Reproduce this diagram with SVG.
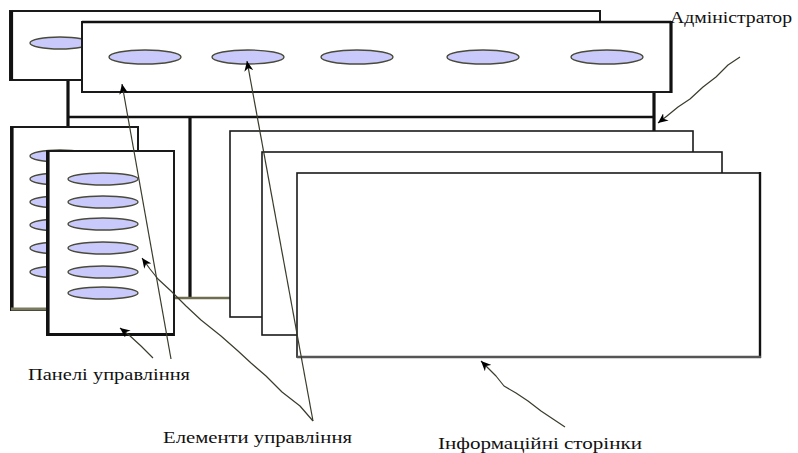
<svg xmlns="http://www.w3.org/2000/svg" width="798" height="453" viewBox="0 0 798 453">
  <style>
    .panel { fill: #ffffff; stroke: #1a1a1a; stroke-width: 2; }
    .page { fill: #ffffff; stroke: #1a1a1a; stroke-width: 1.6; }
    .edge { stroke: #111111; stroke-width: 3.2; fill: none; }
    .shade { stroke: #7a7a60; stroke-width: 3; fill: none; }
    .ctl { fill: #c9c9fb; stroke: #4a4a3a; stroke-width: 1.4; }
    .lead { fill: none; stroke: #3b3b2c; stroke-width: 1.2; stroke-linejoin: round; }
    .lbl { font-family: "Liberation Serif", "DejaVu Serif", serif; font-size: 16px; fill: #111111; }
  </style>
  <defs>
    <marker id="arr" markerUnits="userSpaceOnUse" markerWidth="11" markerHeight="9" refX="10" refY="4.5" orient="auto">
      <path d="M0,0 L10,4.5 L0,9 L3,4.5 z" fill="#000000"/>
    </marker>
  </defs>
  <rect width="798" height="453" fill="#ffffff"/>

  <!-- window frame behind the panels and pages -->
  <g id="frame">
    <rect x="68" y="50" width="586" height="248" fill="#ffffff" stroke="none"/>
    <line class="edge" x1="68" y1="50" x2="68" y2="298"/>
    <line class="edge" x1="654" y1="50" x2="654" y2="298"/>
    <line class="edge" x1="68" y1="117" x2="654" y2="117" style="stroke-width:2.6"/>
    <line class="edge" x1="190" y1="117" x2="190" y2="298"/>
    <line x1="68" y1="298" x2="654" y2="298" stroke="#6d6d50" stroke-width="2.4"/>
  </g>

  <!-- top control bar, back copy -->
  <g id="top-bar-back">
    <rect class="panel" x="10" y="11" width="590" height="69"/>
    <line class="edge" x1="11.5" y1="11" x2="11.5" y2="80"/>
    <ellipse class="ctl" cx="60" cy="43" rx="30" ry="6"/>
  </g>

  <!-- top control bar, front copy -->
  <g id="top-bar-front">
    <rect class="panel" x="82" y="22" width="589" height="70"/>
    <line class="edge" x1="671" y1="21" x2="671" y2="93"/>
    <line x1="82" y1="22" x2="671" y2="22" stroke="#111" stroke-width="2.6"/>
    <ellipse class="ctl" cx="145" cy="57" rx="36" ry="7"/>
    <ellipse class="ctl" cx="248" cy="57" rx="36" ry="7"/>
    <ellipse class="ctl" cx="357" cy="57" rx="36" ry="7"/>
    <ellipse class="ctl" cx="483" cy="57" rx="36" ry="7"/>
    <ellipse class="ctl" cx="607" cy="57" rx="36" ry="7"/>
  </g>

  <!-- side control bar, back copy -->
  <g id="side-bar-back">
    <rect class="panel" x="11" y="127" width="127" height="183"/>
    <line class="edge" x1="12" y1="127" x2="12" y2="310"/>
    <line class="shade" x1="11" y1="309" x2="138" y2="309"/>
    <ellipse class="ctl" cx="60" cy="156" rx="30" ry="6"/>
    <ellipse class="ctl" cx="60" cy="179" rx="30" ry="6"/>
    <ellipse class="ctl" cx="60" cy="202" rx="30" ry="6"/>
    <ellipse class="ctl" cx="60" cy="225" rx="30" ry="6"/>
    <ellipse class="ctl" cx="60" cy="248" rx="30" ry="6"/>
    <ellipse class="ctl" cx="60" cy="272" rx="30" ry="6"/>
  </g>

  <!-- side control bar, front copy -->
  <g id="side-bar-front">
    <rect class="panel" x="47" y="151" width="127" height="184"/>
    <line class="edge" x1="48" y1="151" x2="48" y2="336"/>
    <line class="edge" x1="47" y1="334.5" x2="174" y2="334.5"/>
    <ellipse class="ctl" cx="103" cy="179" rx="35" ry="6"/>
    <ellipse class="ctl" cx="103" cy="202" rx="35" ry="6"/>
    <ellipse class="ctl" cx="103" cy="224" rx="35" ry="6"/>
    <ellipse class="ctl" cx="103" cy="248" rx="35" ry="6"/>
    <ellipse class="ctl" cx="103" cy="272" rx="35" ry="6"/>
    <ellipse class="ctl" cx="103" cy="293" rx="35" ry="6"/>
  </g>

  <!-- stacked information pages -->
  <g id="page-1">
    <rect class="page" x="230" y="131" width="463" height="186"/>
  </g>
  <g id="page-2">
    <rect class="page" x="262" y="152" width="460" height="183"/>
  </g>
  <g id="page-3">
    <rect class="page" x="297" y="173" width="463" height="184"/>
    <line x1="760" y1="172" x2="760" y2="358" stroke="#111" stroke-width="2.4"/>
    <line x1="297" y1="357" x2="761" y2="357" stroke="#555" stroke-width="2.4"/>
  </g>

  <!-- leader lines from the captions -->
  <g id="connectors">
    <path class="lead" marker-end="url(#arr)" d="M740,57 L728,65 L716,77 L703,87 L690,99 L678,107 L667,116 L658,123"/>
    <path class="lead" marker-end="url(#arr)" d="M565,427 L553,419 L541,411 L528,401 L516,393 L504,386 L496,376 L488,368 L481,361"/>
    <path class="lead" marker-end="url(#arr)" d="M313,421 L247,61"/>
    <path class="lead" marker-end="url(#arr)" d="M313,421 L300,406 L282,392 L266,376 L251,363 L238,351 L221,336 L201,320 L186,306 L171,291 L158,279 L150,269 L142,258"/>
    <path class="lead" marker-end="url(#arr)" d="M171,359 L122,84"/>
    <path class="lead" marker-end="url(#arr)" d="M153,358 L141,346 L129,335 L120,328"/>
  </g>

  <!-- captions -->
  <g id="captions">
    <text class="lbl" x="670" y="23" textLength="122" lengthAdjust="spacingAndGlyphs">Адміністратор</text>
    <text class="lbl" x="28" y="380" textLength="162" lengthAdjust="spacingAndGlyphs">Панелі управління</text>
    <text class="lbl" x="163" y="443" textLength="189" lengthAdjust="spacingAndGlyphs">Елементи управління</text>
    <text class="lbl" x="438" y="449" textLength="204" lengthAdjust="spacingAndGlyphs">Інформаційні сторінки</text>
  </g>
</svg>
